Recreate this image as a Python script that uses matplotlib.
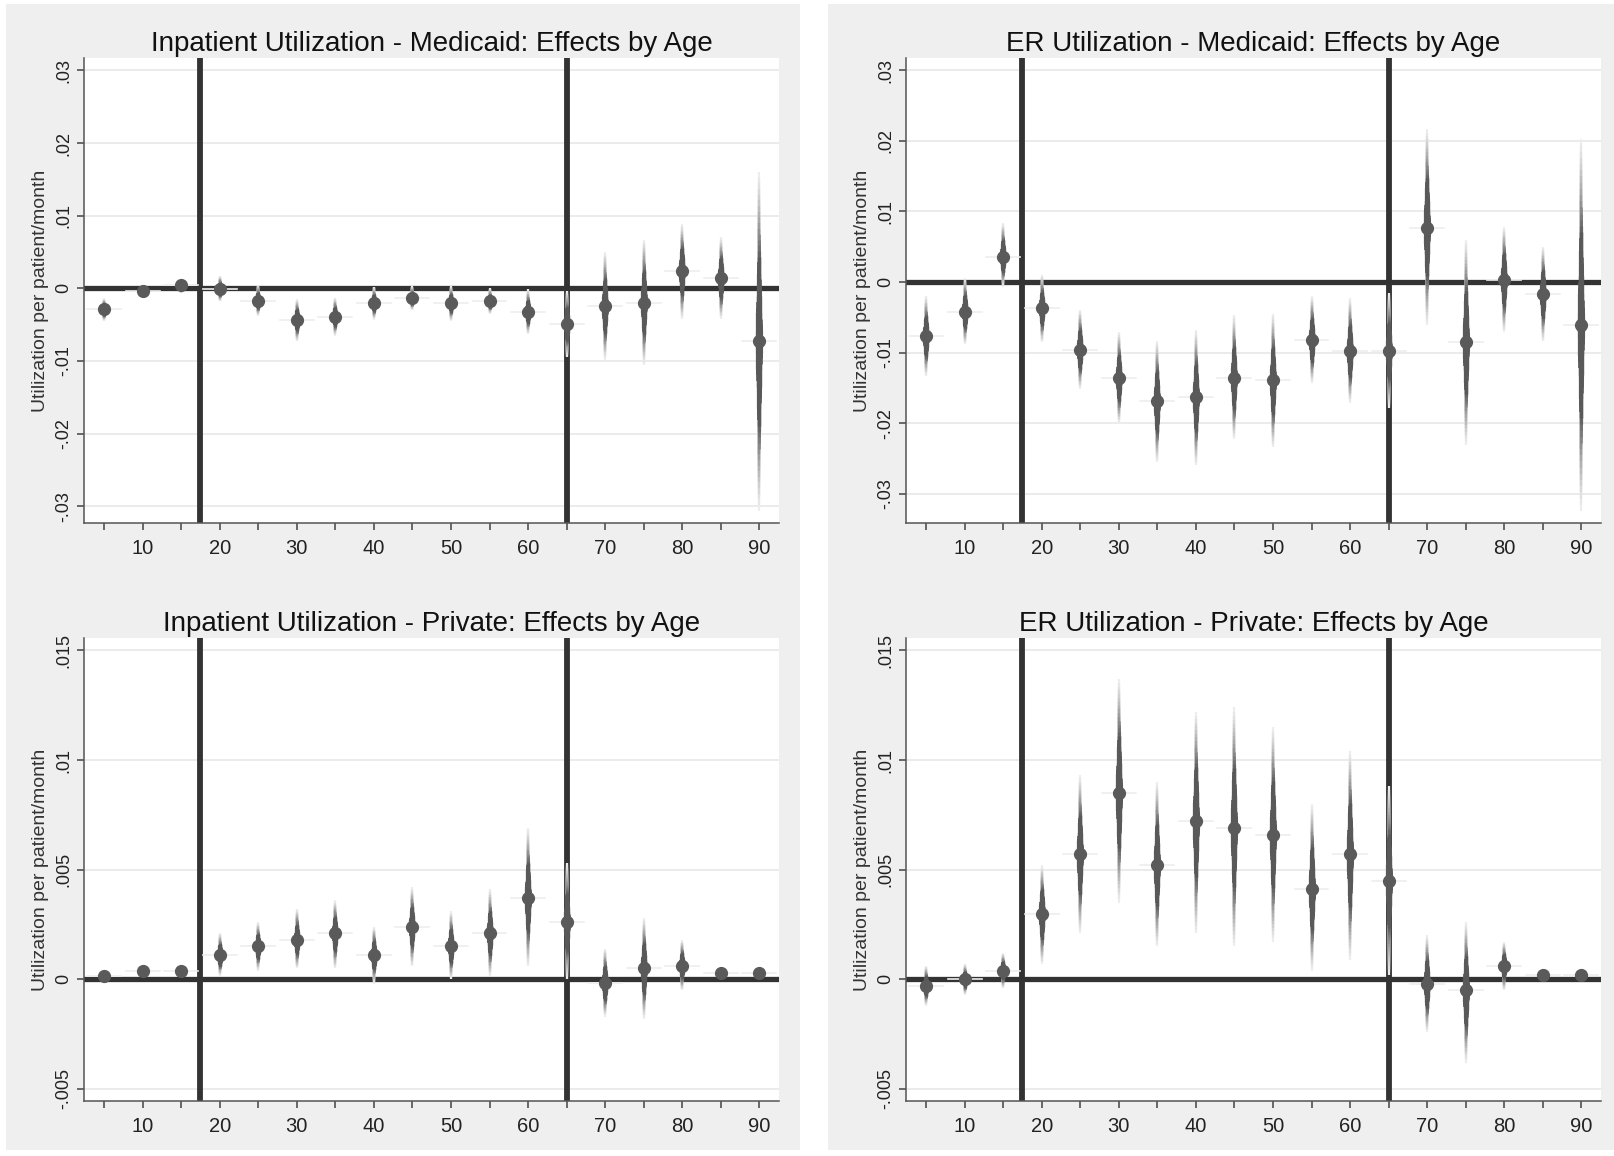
import matplotlib
matplotlib.use('Agg')
import matplotlib.pyplot as plt
from matplotlib.patches import Rectangle
import numpy as np

plt.rcParams['font.family'] = ['Liberation Sans', 'DejaVu Sans']

# age groups (x axis)
ages = [5, 10, 15, 20, 25, 30, 35, 40, 45, 50, 55, 60, 65, 70, 75, 80, 85, 90]

# Inpatient - Medicaid
ip_mcd_est = [-0.0029, -0.0003, 0.0005, -0.0001, -0.0017, -0.0043, -0.0039, -0.0020, -0.0014,
              -0.0020, -0.0018, -0.0032, -0.0049, -0.0025, -0.0020, 0.0024, 0.0014, -0.0073]
ip_mcd_lo = [-0.0045, -0.0010, -0.0007, -0.0018, -0.0038, -0.0073, -0.0065, -0.0043, -0.0030,
             -0.0045, -0.0035, -0.0063, -0.0095, -0.0098, -0.0105, -0.0042, -0.0042, -0.0306]
ip_mcd_hi = [-0.0014, 0.0005, 0.0012, 0.0017, 0.0005, -0.0015, -0.0013, 0.0002, 0.0003,
             0.0003, 0.0000, -0.0001, -0.0003, 0.0050, 0.0067, 0.0088, 0.0070, 0.0160]

# ER - Medicaid
er_mcd_est = [-0.0077, -0.0042, 0.0035, -0.0037, -0.0096, -0.0136, -0.0169, -0.0163, -0.0136,
              -0.0139, -0.0082, -0.0098, -0.0097, 0.0077, -0.0085, 0.0003, -0.0017, -0.0061]
er_mcd_lo = [-0.0133, -0.0088, -0.0007, -0.0085, -0.0151, -0.0200, -0.0255, -0.0259, -0.0222,
             -0.0234, -0.0143, -0.0171, -0.0178, -0.0061, -0.0231, -0.0071, -0.0084, -0.0324]
er_mcd_hi = [-0.0020, 0.0006, 0.0083, 0.0010, -0.0039, -0.0071, -0.0084, -0.0068, -0.0047,
             -0.0045, -0.0020, -0.0023, -0.0016, 0.0216, 0.0060, 0.0078, 0.0050, 0.0202]

# Inpatient - Private
ip_pvt_est = [0.00014, 0.0004, 0.0004, 0.0011, 0.0015, 0.0018, 0.0021, 0.0011, 0.0024,
              0.0015, 0.0021, 0.0037, 0.0026, -0.00017, 0.0005, 0.0006, 0.0003, 0.0003]
ip_pvt_lo = [-0.0001, 0.0002, 0.0002, 0.00015, 0.0004, 0.0005, 0.0005, -0.0002, 0.0006,
             0.0000, 0.00014, 0.0006, 0.0000, -0.0017, -0.0018, -0.0005, 0.0001, 0.0001]
ip_pvt_hi = [0.0004, 0.0006, 0.0006, 0.0021, 0.0026, 0.0032, 0.0036, 0.0024, 0.0042,
             0.0031, 0.0041, 0.0069, 0.0053, 0.0014, 0.0028, 0.0018, 0.0005, 0.0005]

# ER - Private
er_pvt_est = [-0.0003, 0.0000, 0.0004, 0.0030, 0.0057, 0.0085, 0.0052, 0.0072, 0.0069,
              0.0066, 0.0041, 0.0057, 0.0045, -0.0002, -0.0005, 0.0006, 0.0002, 0.0002]
er_pvt_lo = [-0.0012, -0.0007, -0.0004, 0.0007, 0.0021, 0.0035, 0.0015, 0.0021, 0.0015,
             0.0017, 0.0004, 0.0009, 0.0002, -0.0024, -0.0038, -0.0005, 0.0000, 0.0000]
er_pvt_hi = [0.0006, 0.0007, 0.0012, 0.0052, 0.0093, 0.0137, 0.0090, 0.0122, 0.0124,
             0.0115, 0.0080, 0.0104, 0.0088, 0.0020, 0.0026, 0.0017, 0.0004, 0.0004]

# y ticks
mcd_ticks = [-0.03, -0.02, -0.01, 0, 0.01, 0.02, 0.03]
mcd_labels = ['-.03', '-.02', '-.01', '0', '.01', '.02', '.03']
pvt_ticks = [-0.005, 0, 0.005, 0.01, 0.015]
pvt_labels = ['-.005', '0', '.005', '.01', '.015']

# x ticks
x_ticks = list(range(5, 91, 5))
x_labels = [str(a) if a % 10 == 0 else '' for a in x_ticks]

titles = ['Inpatient Utilization - Medicaid: Effects by Age',
          'ER Utilization - Medicaid: Effects by Age',
          'Inpatient Utilization - Private: Effects by Age',
          'ER Utilization - Private: Effects by Age']

cutoffs = [17.5, 65]

W, H = 1614, 1156
BG = '#efefef'
DARK = '#333333'
MARK = '#5a5a5a'


def px_axes(fig, left, top, right, bottom):
    # pixel box -> figure fraction
    ax = fig.add_axes([left / W, 1 - bottom / H, (right - left) / W, (bottom - top) / H])
    ax.set_zorder(2)
    return ax


def spike(ax, x, y, lo, hi):
    # fading confidence spike: thin light ends, dark thick centre
    n = 30
    light = np.array([0.93, 0.93, 0.93])
    dark = np.array([0.35, 0.35, 0.35])
    # faint horizontal glow at the estimate
    ax.plot([x - 2.2, x + 2.2], [y, y], color='#eeeeee', lw=1.2, zorder=3)
    for j in range(n):
        f = 1 - j / n
        t = 1 - f
        c = light + (dark - light) * min(1.0, (t / 0.5) ** 1.2)
        lw = 1.6 + 4.0 * max(0.0, (t - 0.3) / 0.7) ** 1.2
        ax.plot([x, x], [y - f * (y - lo), y + f * (hi - y)], color=tuple(c), lw=lw,
                solid_capstyle='butt', zorder=4)
    ax.plot(x, y, 'o', color=MARK, ms=8.5, mec=MARK, zorder=5)


def draw_panel(ax, est, lo, hi, yticks, ylabels, ylim, title):
    ax.set_xlim(2.4, 92.55)
    ax.set_ylim(*ylim)
    for t in yticks:
        ax.axhline(t, color='#e8e8e8', lw=1.2, zorder=1)
    ax.axhline(0, color=DARK, lw=3.8, zorder=2)
    for c in cutoffs:
        ax.axvline(c, color=DARK, lw=4.2, zorder=2)
    for a, e, l, h in zip(ages, est, lo, hi):
        spike(ax, a, e, l, h)

    ax.set_xticks(x_ticks)
    ax.set_xticklabels(x_labels, fontsize=14.5, color='#222222')
    ax.set_yticks(yticks)
    ax.set_yticklabels(ylabels, fontsize=13, color='#222222', rotation=90, va='center')
    ax.tick_params(axis='both', direction='out', length=5, width=1.1, color='#444444')
    ax.tick_params(axis='x', pad=6.5)
    ax.tick_params(axis='y', pad=3.5)
    for s in ['top', 'right']:
        ax.spines[s].set_visible(False)
    for s in ['left', 'bottom']:
        ax.spines[s].set_color('#555555')
        ax.spines[s].set_linewidth(1.1)
    ax.set_ylabel('Utilization per patient/month', fontsize=14, color='#333333')
    ax.yaxis.set_label_coords(-0.05, 0.5)
    ax.set_title(title, fontsize=20, color='#111111', pad=5)
    ax.set_facecolor('white')


def main():
    fig = plt.figure(figsize=(W / 100, H / 100), dpi=100, facecolor='white')

    # grey backgrounds for the two columns
    for x0, x1 in [(6, 800), (828, 1614)]:
        fig.patches.append(Rectangle((x0 / W, 1 - 1150 / H), (x1 - x0) / W, (1150 - 4) / H,
                                     transform=fig.transFigure, facecolor=BG, edgecolor='none',
                                     zorder=-10))

    ax1 = px_axes(fig, 84, 58, 779, 523)
    ax2 = px_axes(fig, 906, 58, 1601, 523)
    ax3 = px_axes(fig, 84, 638, 779, 1101)
    ax4 = px_axes(fig, 906, 638, 1601, 1101)

    draw_panel(ax1, ip_mcd_est, ip_mcd_lo, ip_mcd_hi, mcd_ticks, mcd_labels, (-0.0323, 0.0317), titles[0])
    draw_panel(ax2, er_mcd_est, er_mcd_lo, er_mcd_hi, mcd_ticks, mcd_labels, (-0.0341, 0.0317), titles[1])
    draw_panel(ax3, ip_pvt_est, ip_pvt_lo, ip_pvt_hi, pvt_ticks, pvt_labels, (-0.00555, 0.01557), titles[2])
    draw_panel(ax4, er_pvt_est, er_pvt_lo, er_pvt_hi, pvt_ticks, pvt_labels, (-0.00555, 0.01557), titles[3])

    fig.savefig('out.png', dpi=100, facecolor='white')


if __name__ == "__main__":
    main()
